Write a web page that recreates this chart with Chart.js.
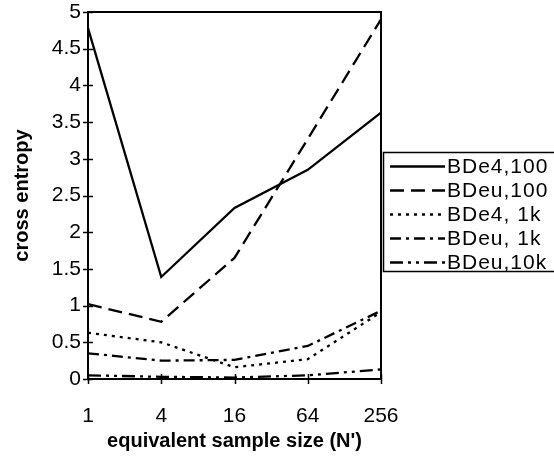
<!DOCTYPE html>
<html>
<head>
<meta charset="utf-8">
<script src="https://cdn.jsdelivr.net/npm/chart.js@4"></script>
<style>
html,body{margin:0;padding:0;background:#fff;}
canvas{display:block;}
</style>
</head>
<body>
<canvas id="c" width="554" height="459"></canvas>
<script>
const categories = ['1', '4', '16', '64', '256'];
const yTicks = [0, 0.5, 1, 1.5, 2, 2.5, 3, 3.5, 4, 4.5, 5];
const yTickLabels = ['0', '0.5', '1', '1.5', '2', '2.5', '3', '3.5', '4', '4.5', '5'];
const seriesNames = ['BDe4,100', 'BDeu,100', 'BDe4, 1k', 'BDeu, 1k', 'BDeu,10k'];
const bde4_100 = [4.78, 1.39, 2.33, 2.85, 3.63];
const bdeu_100 = [1.02, 0.78, 1.65, 3.27, 4.9];
const bde4_1k = [0.63, 0.50, 0.16, 0.27, 0.91];
const bdeu_1k = [0.35, 0.25, 0.26, 0.45, 0.93];
const bdeu_10k = [0.05, 0.03, 0.02, 0.05, 0.13];

const dashes = [[], [14, 7], [3, 5], [11, 5, 3, 5], [13, 5, 3, 5, 3, 5]];
const values = [bde4_100, bdeu_100, bde4_1k, bdeu_1k, bdeu_10k];

const tickFont = '"Liberation Sans", Arial, sans-serif';
const titleFont = '"Liberation Sans", Arial, sans-serif';

const framePlugin = {
  id: 'frame',
  afterDraw(chart) {
    const ctx = chart.ctx;
    const a = chart.chartArea;
    const xs = chart.scales.x, ys = chart.scales.y;
    ctx.save();
    ctx.strokeStyle = '#000';
    ctx.lineWidth = 2;
    ctx.setLineDash([]);
    ctx.strokeRect(a.left, a.top, a.right - a.left, a.bottom - a.top);
    ctx.lineWidth = 1.5;
    ctx.beginPath();
    yTicks.forEach(v => {
      const py = Math.round(ys.getPixelForValue(v)) + 0.5;
      ctx.moveTo(a.left - 5, py); ctx.lineTo(a.left + 5, py);
    });
    categories.forEach((_, i) => {
      const px = Math.round(xs.getPixelForValue(i)) + 0.5;
      ctx.moveTo(px, a.bottom - 5); ctx.lineTo(px, a.bottom + 5);
    });
    ctx.stroke();

    // legend
    const lx = 383.5, ly = 152.5, lw = 200, lh = 119;
    ctx.lineWidth = 1.5;
    ctx.strokeRect(lx, ly, lw, lh);
    ctx.font = '21px ' + tickFont;
    if ('letterSpacing' in ctx) ctx.letterSpacing = '1px';
    ctx.textBaseline = 'middle';
    ctx.textAlign = 'left';
    ctx.fillStyle = '#000';
    chart.data.datasets.forEach((ds, i) => {
      const ry = ly + 14 + i * 24;
      ctx.beginPath();
      ctx.lineWidth = 2.3;
      ctx.setLineDash(ds.borderDash || []);
      ctx.moveTo(390, ry); ctx.lineTo(445, ry);
      ctx.stroke();
      ctx.setLineDash([]);
      ctx.fillText(ds.label, 447, ry + 1);
    });
    ctx.restore();
  }
};

new Chart(document.getElementById('c'), {
  type: 'line',
  data: {
    labels: categories,
    datasets: values.map((v, i) => ({
      label: seriesNames[i],
      data: v,
      borderColor: '#000',
      backgroundColor: '#000',
      borderWidth: 2.3,
      borderDash: dashes[i],
      pointRadius: 0,
      tension: 0,
      fill: false
    }))
  },
  options: {
    responsive: false,
    animation: false,
    devicePixelRatio: 1,
    layout: { padding: { top: 12, right: 173, left: 0, bottom: 0 } },
    plugins: { legend: { display: false }, tooltip: { enabled: false } },
    scales: {
      x: {
        type: 'category',
        offset: false,
        grid: { display: false, drawTicks: false },
        border: { display: true, color: '#000', width: 2 },
        ticks: { color: '#000', padding: 25, maxRotation: 0, font: { family: tickFont, size: 21 } },
        title: { display: true, text: "equivalent sample size (N')", color: '#000', padding: { top: 0, bottom: 6 }, font: { family: titleFont, size: 20, weight: 'bold' } },
        afterFit(s) { s.height = 80; s.paddingLeft = 0; s.paddingRight = 0; }
      },
      y: {
        min: 0, max: 5,
        grid: { display: false, drawTicks: false },
        border: { display: true, color: '#000', width: 2 },
        afterBuildTicks(s) { s.ticks = yTicks.map(v => ({ value: v })); },
        ticks: {
          color: '#000', padding: 7,
          font: { family: tickFont, size: 21 },
          callback(value, index) { return yTickLabels[index]; }
        },
        title: { display: true, text: 'cross entropy', color: '#000', padding: { top: 10, bottom: 0 }, font: { family: titleFont, size: 20, weight: 'bold' } },
        afterFit(s) { s.width = 88; s.paddingTop = 0; s.paddingBottom = 0; }
      }
    }
  },
  plugins: [framePlugin]
});
</script>
</body>
</html>
